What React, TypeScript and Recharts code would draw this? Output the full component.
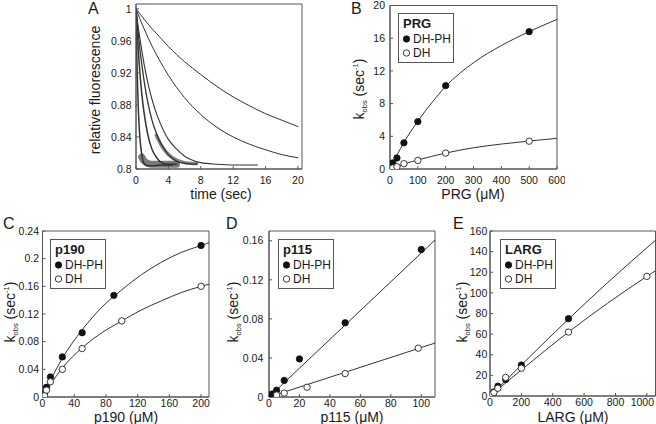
import React from 'react';
import {
  ComposedChart,
  Line,
  Scatter,
  XAxis,
  YAxis,
  Legend,
  Label,
  ReferenceArea,
} from 'recharts';

type Pt = { x: number; y: number };

const FONT = '"Liberation Sans", Arial, Helvetica, sans-serif';
const INK = '#1a1a1a';
const FRAME = '#555';
const CURVE = '#333';
const TICK_FONT = 10.5;

// ---------------- Panel A: fluorescence traces ----------------
const timeTicks = [0, 4, 8, 12, 16, 20];
const fluorTicks = [0.8, 0.84, 0.88, 0.92, 0.96, 1];
const traceA1: Pt[] = [
  { x: 0, y: 1 }, { x: 1, y: 0.987 }, { x: 2, y: 0.975 }, { x: 3, y: 0.964 },
  { x: 4, y: 0.953 }, { x: 6, y: 0.934 }, { x: 8, y: 0.918 }, { x: 10, y: 0.903 },
  { x: 12, y: 0.89 }, { x: 14, y: 0.879 }, { x: 16, y: 0.869 }, { x: 18, y: 0.861 },
  { x: 20, y: 0.853 },
];
const traceA2: Pt[] = [
  { x: 0, y: 1 }, { x: 0.5, y: 0.987 }, { x: 1, y: 0.975 }, { x: 2, y: 0.953 },
  { x: 3, y: 0.934 }, { x: 4, y: 0.917 }, { x: 6, y: 0.889 }, { x: 8, y: 0.868 },
  { x: 10, y: 0.852 }, { x: 12, y: 0.84 }, { x: 14, y: 0.831 }, { x: 16, y: 0.824 },
  { x: 18, y: 0.818 }, { x: 20, y: 0.814 },
];
const traceA3: Pt[] = [
  { x: 0, y: 1 }, { x: 0.25, y: 0.979 }, { x: 0.5, y: 0.962 }, { x: 0.75, y: 0.946 },
  { x: 1, y: 0.931 }, { x: 1.5, y: 0.906 }, { x: 2, y: 0.886 }, { x: 2.5, y: 0.87 },
  { x: 3, y: 0.857 }, { x: 3.5, y: 0.846 }, { x: 4, y: 0.837 }, { x: 5, y: 0.825 },
  { x: 6, y: 0.816 }, { x: 7, y: 0.811 }, { x: 8, y: 0.808 }, { x: 10, y: 0.806 },
  { x: 12, y: 0.805 }, { x: 15, y: 0.805 },
];
const traceA4: Pt[] = [
  { x: 0, y: 1 }, { x: 0.25, y: 0.972 }, { x: 0.5, y: 0.948 }, { x: 0.75, y: 0.928 },
  { x: 1, y: 0.91 }, { x: 1.5, y: 0.881 }, { x: 2, y: 0.86 }, { x: 2.5, y: 0.845 },
  { x: 3, y: 0.833 }, { x: 3.5, y: 0.825 }, { x: 4, y: 0.818 }, { x: 5, y: 0.81 },
  { x: 6, y: 0.807 }, { x: 7, y: 0.806 }, { x: 7.5, y: 0.806 },
];
const traceA5: Pt[] = [
  { x: 0, y: 1 }, { x: 0.2, y: 0.962 }, { x: 0.4, y: 0.931 }, { x: 0.6, y: 0.906 },
  { x: 0.8, y: 0.886 }, { x: 1, y: 0.87 }, { x: 1.25, y: 0.854 }, { x: 1.5, y: 0.841 },
  { x: 2, y: 0.824 }, { x: 2.5, y: 0.815 }, { x: 3, y: 0.809 }, { x: 4, y: 0.806 },
  { x: 5, y: 0.806 },
];
const traceA6: Pt[] = [
  { x: 0, y: 1 }, { x: 0.1, y: 0.943 }, { x: 0.2, y: 0.901 }, { x: 0.3, y: 0.872 },
  { x: 0.4, y: 0.851 }, { x: 0.5, y: 0.837 }, { x: 0.7, y: 0.819 }, { x: 1, y: 0.807 },
  { x: 1.5, y: 0.804 }, { x: 2, y: 0.804 }, { x: 3, y: 0.805 }, { x: 4.5, y: 0.805 },
];
// noise envelopes around the settled ends of the fast, noisy traces
const noiseFast: Pt[] = [
  { x: 0.7, y: 0.815 }, { x: 1, y: 0.81 }, { x: 1.5, y: 0.807 }, { x: 2, y: 0.806 },
  { x: 3, y: 0.806 }, { x: 4, y: 0.806 }, { x: 5, y: 0.806 },
];
const noiseMid: Pt[] = [
  { x: 2.5, y: 0.842 }, { x: 3, y: 0.832 }, { x: 3.5, y: 0.824 }, { x: 4, y: 0.818 },
  { x: 5, y: 0.811 }, { x: 6, y: 0.808 }, { x: 7, y: 0.807 }, { x: 7.5, y: 0.807 },
];

// ---------------- Panel B: PRG ----------------
const prgTicksX = [0, 100, 200, 300, 400, 500, 600];
const prgTicksY = [0, 4, 8, 12, 16, 20];
const prgDHPH: Pt[] = [
  { x: 2, y: 0.2 }, { x: 5, y: 0.45 }, { x: 10, y: 0.75 }, { x: 25, y: 1.35 },
  { x: 50, y: 3.2 }, { x: 100, y: 5.8 }, { x: 200, y: 10.2 }, { x: 500, y: 16.8 },
];
const prgDH: Pt[] = [
  { x: 2, y: 0.05 }, { x: 5, y: 0.08 }, { x: 10, y: 0.12 }, { x: 25, y: 0.28 },
  { x: 50, y: 0.65 }, { x: 100, y: 1.05 }, { x: 200, y: 1.95 }, { x: 500, y: 3.4 },
];
const prgFitDHPH: Pt[] = [
  { x: 0, y: 0 }, { x: 25, y: 1.7 }, { x: 50, y: 3.25 }, { x: 100, y: 5.85 },
  { x: 150, y: 8.1 }, { x: 200, y: 10.1 }, { x: 300, y: 13.0 }, { x: 400, y: 15.1 },
  { x: 500, y: 16.8 }, { x: 600, y: 18.3 },
];
const prgFitDH: Pt[] = [
  { x: 0, y: 0 }, { x: 25, y: 0.3 }, { x: 50, y: 0.6 }, { x: 100, y: 1.1 },
  { x: 200, y: 1.95 }, { x: 300, y: 2.6 }, { x: 400, y: 3.05 }, { x: 500, y: 3.42 },
  { x: 600, y: 3.75 },
];

// ---------------- Panel C: p190 ----------------
const p190TicksX = [0, 40, 80, 120, 160, 200];
const p190TicksY = [0, 0.04, 0.08, 0.12, 0.16, 0.2, 0.24];
const p190DHPH: Pt[] = [
  { x: 2.5, y: 0.004 }, { x: 5, y: 0.014 }, { x: 10, y: 0.029 }, { x: 25, y: 0.058 },
  { x: 50, y: 0.093 }, { x: 90, y: 0.147 }, { x: 200, y: 0.219 },
];
const p190DH: Pt[] = [
  { x: 2.5, y: 0.002 }, { x: 5, y: 0.01 }, { x: 10, y: 0.022 }, { x: 25, y: 0.04 },
  { x: 50, y: 0.07 }, { x: 100, y: 0.11 }, { x: 200, y: 0.16 },
];
const p190FitDHPH: Pt[] = [
  { x: 0, y: 0 }, { x: 10, y: 0.024 }, { x: 25, y: 0.056 }, { x: 50, y: 0.097 },
  { x: 75, y: 0.13 }, { x: 100, y: 0.155 }, { x: 125, y: 0.177 }, { x: 150, y: 0.195 },
  { x: 175, y: 0.209 }, { x: 200, y: 0.219 }, { x: 210, y: 0.223 },
];
const p190FitDH: Pt[] = [
  { x: 0, y: 0 }, { x: 10, y: 0.018 }, { x: 25, y: 0.042 }, { x: 50, y: 0.071 },
  { x: 75, y: 0.093 }, { x: 100, y: 0.11 }, { x: 125, y: 0.126 }, { x: 150, y: 0.139 },
  { x: 175, y: 0.151 }, { x: 200, y: 0.16 }, { x: 210, y: 0.163 },
];

// ---------------- Panel D: p115 ----------------
const p115TicksX = [0, 20, 40, 60, 80, 100];
const p115TicksY = [0, 0.04, 0.08, 0.12, 0.16];
const p115DHPH: Pt[] = [
  { x: 0.5, y: 0.0005 }, { x: 1, y: 0.001 }, { x: 2, y: 0.003 }, { x: 5, y: 0.007 },
  { x: 10, y: 0.017 }, { x: 20, y: 0.039 }, { x: 50, y: 0.076 }, { x: 100, y: 0.151 },
];
const p115DH: Pt[] = [
  { x: 5, y: 0.002 }, { x: 10, y: 0.004 }, { x: 25, y: 0.01 }, { x: 50, y: 0.024 },
  { x: 98, y: 0.05 },
];
const p115FitDHPH: Pt[] = [{ x: 0, y: 0 }, { x: 109, y: 0.1608 }];
const p115FitDH: Pt[] = [{ x: 0, y: 0 }, { x: 109, y: 0.0552 }];

// ---------------- Panel E: LARG ----------------
const largTicksX = [0, 200, 400, 600, 800, 1000];
const largTicksY = [0, 20, 40, 60, 80, 100, 120, 140, 160];
const largDHPH: Pt[] = [
  { x: 1, y: 0.2 }, { x: 5, y: 0.8 }, { x: 10, y: 1.6 }, { x: 25, y: 4 },
  { x: 50, y: 9.5 }, { x: 100, y: 16 }, { x: 200, y: 30 }, { x: 500, y: 75 },
];
const largDH: Pt[] = [
  { x: 5, y: 0.6 }, { x: 10, y: 1.3 }, { x: 25, y: 3.3 }, { x: 50, y: 7.5 },
  { x: 100, y: 18 }, { x: 200, y: 27 }, { x: 500, y: 62 }, { x: 1000, y: 116 },
];
const largFitDHPH: Pt[] = [
  { x: 0, y: 0 }, { x: 250, y: 37.5 }, { x: 500, y: 74.5 }, { x: 750, y: 110 },
  { x: 1055, y: 151 },
];
const largFitDH: Pt[] = [
  { x: 0, y: 0 }, { x: 250, y: 31.5 }, { x: 500, y: 62 }, { x: 750, y: 90 },
  { x: 1000, y: 116 }, { x: 1055, y: 121.5 },
];

// ---------------- helpers ----------------
const FilledDot = (p: any) => (
  <circle cx={p.cx} cy={p.cy} r={3.2} fill="#111" stroke="#111" strokeWidth={0.8} />
);
const OpenDot = (p: any) => (
  <circle cx={p.cx} cy={p.cy} r={3.2} fill="#fff" stroke="#222" strokeWidth={0.9} />
);

const KobsTitle = ({ x, y }: { x: number; y: number }) => (
  <text
    transform={`translate(${x},${y}) rotate(-90)`}
    textAnchor="middle"
    fontFamily={FONT}
    fontSize={14}
    fill={INK}
  >
    <tspan>k</tspan>
    <tspan fontSize={7.5} dy={3}>obs</tspan>
    <tspan dy={-3}>{' (sec'}</tspan>
    <tspan fontSize={7.5} dy={-6}>-1</tspan>
    <tspan dy={6}>)</tspan>
  </text>
);

const PlainText = ({ x, y, text, size = 14, anchor = 'middle', rotate = false }: any) => (
  <text
    transform={rotate ? `translate(${x},${y}) rotate(-90)` : undefined}
    x={rotate ? undefined : x}
    y={rotate ? undefined : y}
    textAnchor={anchor}
    fontFamily={FONT}
    fontSize={size}
    fill={INK}
  >
    {text}
  </text>
);

const LegendBox = ({ title }: { title: string }) => (
  <svg width={56} height={50} style={{ display: 'block' }}>
    <rect x={0.5} y={0.5} width={55} height={49} fill="#fff" stroke={FRAME} strokeWidth={1} />
    <text x={5} y={15} fontFamily={FONT} fontSize={13} fontWeight="bold" fill={INK}>
      {title}
    </text>
    <circle cx={8.5} cy={26} r={3.2} fill="#111" stroke="#111" strokeWidth={0.8} />
    <text x={15} y={30} fontFamily={FONT} fontSize={12} fill={INK}>DH-PH</text>
    <circle cx={8.5} cy={40} r={3.2} fill="#fff" stroke="#222" strokeWidth={0.9} />
    <text x={15} y={44} fontFamily={FONT} fontSize={12} fill={INK}>DH</text>
  </svg>
);

// x tick that nudges the label of a given value (the last one at the page edge)
const makeXTick = (nudgeValue?: number, nudge = 0) => (props: any) => {
  const { x, y, payload } = props;
  const dx = payload && payload.value === nudgeValue ? nudge : 0;
  return (
    <text
      x={x + dx}
      y={y}
      dy="0.71em"
      textAnchor="middle"
      fontFamily={FONT}
      fontSize={TICK_FONT}
      fill={INK}
    >
      {payload.value}
    </text>
  );
};

type LineSpec = {
  data: Pt[];
  type: 'monotone' | 'linear';
  width?: number;
  opacity?: number;
  color?: string;
};

interface PanelProps {
  left: number;
  top: number;
  width: number;
  height: number;
  margin: { top: number; right: number; bottom: number; left: number };
  yWidth: number;
  xHeight: number;
  xDomain: [number, number];
  yDomain: [number, number];
  xTicks: number[];
  yTicks: number[];
  xTickMargin: number;
  yTickMargin: number;
  lines: LineSpec[];
  filled?: Pt[];
  open?: Pt[];
  legendTitle?: string;
  legendPos?: { left: number; top: number };
  deco: React.ReactNode;
  xTick?: any;
}

function Panel(p: PanelProps) {
  const tickStyle = { fill: INK, fontSize: TICK_FONT, fontFamily: FONT };
  return (
    <div style={{ position: 'absolute', left: p.left, top: p.top, width: p.width, height: p.height }}>
      <ComposedChart width={p.width} height={p.height} margin={p.margin}>
        <XAxis
          type="number"
          dataKey="x"
          domain={p.xDomain}
          ticks={p.xTicks}
          interval={0}
          allowDataOverflow
          height={p.xHeight}
          tickSize={-3}
          tickMargin={p.xTickMargin}
          tick={p.xTick ?? tickStyle}
          tickLine={{ stroke: FRAME }}
          axisLine={{ stroke: FRAME }}
        />
        <YAxis
          type="number"
          dataKey="y"
          domain={p.yDomain}
          ticks={p.yTicks}
          interval={0}
          allowDataOverflow
          width={p.yWidth}
          tickSize={-3}
          tickMargin={p.yTickMargin}
          tick={tickStyle}
          tickLine={{ stroke: FRAME }}
          axisLine={{ stroke: FRAME }}
        >
          <Label content={() => <g>{p.deco}</g>} />
        </YAxis>
        <ReferenceArea
          x1={p.xDomain[0]}
          x2={p.xDomain[1]}
          y1={p.yDomain[0]}
          y2={p.yDomain[1]}
          fill="none"
          stroke={FRAME}
          strokeWidth={1}
          ifOverflow="visible"
        />
        {p.lines.map((l, i) => (
          <Line
            key={i}
            data={l.data}
            dataKey="y"
            type={l.type}
            stroke={l.color ?? CURVE}
            strokeWidth={l.width ?? 1}
            strokeOpacity={l.opacity ?? 1}
            strokeLinecap="round"
            dot={false}
            activeDot={false}
            isAnimationActive={false}
          />
        ))}
        {p.filled && (
          <Scatter data={p.filled} dataKey="y" shape={FilledDot} isAnimationActive={false} />
        )}
        {p.open && <Scatter data={p.open} dataKey="y" shape={OpenDot} isAnimationActive={false} />}
        {p.legendTitle && p.legendPos && (
          <Legend
            layout="vertical"
            align="center"
            verticalAlign="middle"
            content={() => <LegendBox title={p.legendTitle as string} />}
            wrapperStyle={{
              left: p.legendPos.left,
              top: p.legendPos.top,
              width: 56,
              height: 50,
              margin: 0,
              padding: 0,
            }}
          />
        )}
      </ComposedChart>
    </div>
  );
}

export default function App() {
  return (
    <div
      style={{
        position: 'absolute',
        left: 0,
        top: 0,
        width: 656,
        height: 424,
        background: '#fff',
        overflow: 'hidden',
        fontFamily: FONT,
      }}
    >
      {/* Panel A */}
      <Panel
        left={60}
        top={0}
        width={248}
        height={209}
        margin={{ top: 4, right: 6, bottom: 0, left: 0 }}
        yWidth={76}
        xHeight={40}
        xDomain={[0, 20.5]}
        yDomain={[0.8, 1.006]}
        xTicks={timeTicks}
        yTicks={fluorTicks}
        xTickMargin={10.5}
        yTickMargin={7.5}
        lines={[
          { data: noiseFast, type: 'monotone', width: 7, opacity: 0.6, color: '#222' },
          { data: noiseMid, type: 'monotone', width: 3.5, opacity: 0.55, color: '#222' },
          { data: traceA1, type: 'monotone' },
          { data: traceA2, type: 'monotone' },
          { data: traceA3, type: 'monotone', width: 1.1 },
          { data: traceA4, type: 'monotone', width: 1.3 },
          { data: traceA5, type: 'monotone', width: 1.5 },
          { data: traceA6, type: 'monotone', width: 1.5 },
        ]}
        deco={
          <>
            <PlainText x={28} y={14} text="A" size={16} anchor="start" />
            <PlainText x={40} y={90} text="relative fluorescence" rotate />
            <PlainText x={161} y={198.5} text="time (sec)" />
          </>
        }
      />
      {/* Panel B */}
      <Panel
        left={320}
        top={0}
        width={245}
        height={209}
        margin={{ top: 5.5, right: 8, bottom: 0, left: 0 }}
        yWidth={70}
        xHeight={40}
        xDomain={[0, 600]}
        yDomain={[0, 20]}
        xTicks={prgTicksX}
        yTicks={prgTicksY}
        xTickMargin={10.5}
        yTickMargin={8}
        lines={[
          { data: prgFitDHPH, type: 'monotone' },
          { data: prgFitDH, type: 'monotone' },
        ]}
        filled={prgDHPH}
        open={prgDH}
        legendTitle="PRG"
        legendPos={{ left: 78, top: 13 }}
        deco={
          <>
            <PlainText x={31} y={14} text="B" size={16} anchor="start" />
            <KobsTitle x={44} y={89} />
            <PlainText x={153} y={198.5} text="PRG (μM)" />
          </>
        }
      />
      {/* Panel C */}
      <Panel
        left={0}
        top={205}
        width={217}
        height={219}
        margin={{ top: 26, right: 8, bottom: 0, left: 0 }}
        yWidth={42.5}
        xHeight={27}
        xDomain={[0, 210]}
        yDomain={[0, 0.24]}
        xTicks={p190TicksX}
        yTicks={p190TicksY}
        xTickMargin={6}
        yTickMargin={6.5}
        lines={[
          { data: p190FitDHPH, type: 'monotone' },
          { data: p190FitDH, type: 'monotone' },
        ]}
        filled={p190DHPH}
        open={p190DH}
        legendTitle="p190"
        legendPos={{ left: 50, top: 34 }}
        deco={
          <>
            <PlainText x={3} y={24} text="C" size={16} anchor="start" />
            <KobsTitle x={15} y={107} />
            <PlainText x={126} y={216.5} text="p190 (μM)" />
          </>
        }
      />
      {/* Panel D */}
      <Panel
        left={215}
        top={205}
        width={228}
        height={219}
        margin={{ top: 26, right: 8, bottom: 0, left: 0 }}
        yWidth={54}
        xHeight={27}
        xDomain={[0, 109]}
        yDomain={[0, 0.17]}
        xTicks={p115TicksX}
        yTicks={p115TicksY}
        xTickMargin={6}
        yTickMargin={8.7}
        lines={[
          { data: p115FitDHPH, type: 'linear' },
          { data: p115FitDH, type: 'linear' },
        ]}
        filled={p115DHPH}
        open={p115DH}
        legendTitle="p115"
        legendPos={{ left: 63, top: 34 }}
        deco={
          <>
            <PlainText x={11} y={24} text="D" size={16} anchor="start" />
            <KobsTitle x={23} y={107} />
            <PlainText x={137} y={216.5} text="p115 (μM)" />
          </>
        }
      />
      {/* Panel E */}
      <Panel
        left={440}
        top={205}
        width={216}
        height={219}
        margin={{ top: 26, right: 0.5, bottom: 0, left: 0 }}
        yWidth={50}
        xHeight={28}
        xDomain={[0, 1055]}
        yDomain={[0, 160]}
        xTicks={largTicksX}
        yTicks={largTicksY}
        xTickMargin={6}
        yTickMargin={5.7}
        xTick={makeXTick(1000, -4.5)}
        lines={[
          { data: largFitDHPH, type: 'monotone' },
          { data: largFitDH, type: 'monotone' },
        ]}
        filled={largDHPH}
        open={largDH}
        legendTitle="LARG"
        legendPos={{ left: 60, top: 34 }}
        deco={
          <>
            <PlainText x={13} y={24} text="E" size={16} anchor="start" />
            <KobsTitle x={27} y={107} />
            <PlainText x={133} y={216.5} text="LARG (μM)" />
          </>
        }
      />
    </div>
  );
}
